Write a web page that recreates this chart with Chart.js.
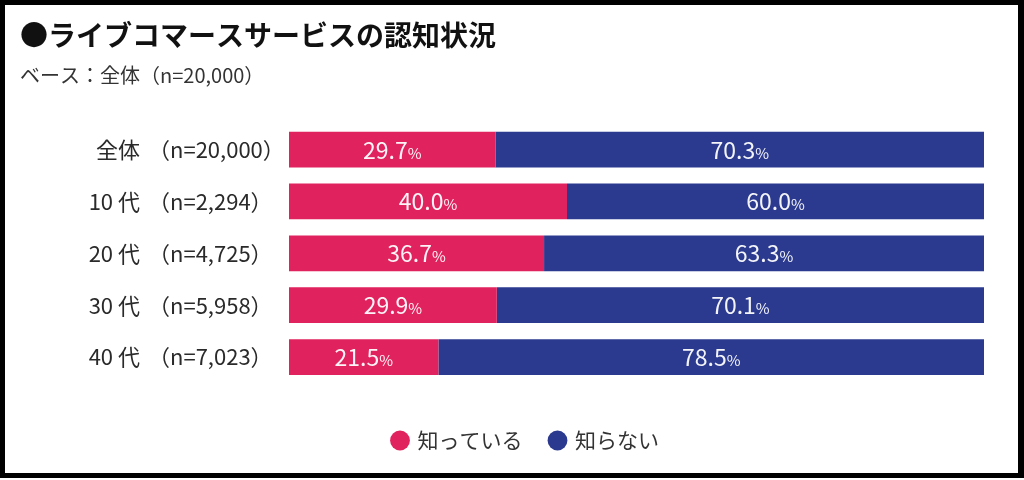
<!DOCTYPE html>
<html lang="ja">
<head>
<meta charset="utf-8">
<script src="https://cdn.jsdelivr.net/npm/chart.js@4.4.1/dist/chart.umd.min.js"></script>
<style>
  html, body { margin: 0; padding: 0; background: #fff; }
  #frame {
    position: absolute; left: 0; top: 0; width: 1024px; height: 478px;
    box-sizing: border-box; border-style: solid; border-color: #000;
    border-width: 5px 6px 5px 5px; background: #fff;
  }
  #wrap { position: absolute; left: 0; top: 0; width: 1013px; height: 468px; }
</style>
</head>
<body>
<div id="frame"><div id="wrap"><canvas id="c"></canvas></div></div>
<script>
const categories = ['全体', '10 代', '20 代', '30 代', '40 代'];
const sampleSizes = ['（n=20,000）', '（n=2,294）', '（n=4,725）', '（n=5,958）', '（n=7,023）'];
const knowValues = [29.7, 40.0, 36.7, 29.9, 21.5];
const unknownValues = [70.3, 60.0, 63.3, 70.1, 78.5];
const seriesNames = ['知っている', '知らない'];
const seriesColors = ['#E0225E', '#2B3A8F'];

const FONT = '"Noto Sans CJK JP", "Noto Sans", sans-serif';

const barLabels = {
  id: 'barLabels',
  afterDatasetsDraw(chart) {
    const ctx = chart.ctx;
    ctx.save();
    ctx.textBaseline = 'alphabetic';
    ctx.fillStyle = 'rgba(255,255,255,0.95)';
    chart.data.datasets.forEach((ds, di) => {
      const meta = chart.getDatasetMeta(di);
      meta.data.forEach((el, i) => {
        const v = ds.data[i];
        const num = v.toFixed(1);
        const c = el.getCenterPoint();
        ctx.font = '23px ' + FONT;
        const w1 = ctx.measureText(num).width;
        ctx.font = '15px ' + FONT;
        const w2 = ctx.measureText('%').width;
        const x0 = c.x - (w1 + w2) / 2;
        const base = c.y + 9;
        ctx.font = '23px ' + FONT;
        ctx.textAlign = 'left';
        ctx.fillText(num, x0, base);
        ctx.font = '15px ' + FONT;
        ctx.fillText('%', x0 + w1, base);
      });
    });
    ctx.restore();
  }
};

const rowLabels = {
  id: 'rowLabels',
  afterDraw(chart) {
    const ctx = chart.ctx;
    const y = chart.scales.y;
    ctx.save();
    ctx.fillStyle = '#2a2a2a';
    ctx.font = '22px ' + FONT;
    ctx.textBaseline = 'middle';
    categories.forEach((cat, i) => {
      const py = y.getPixelForValue(i);
      ctx.textAlign = 'right';
      ctx.fillText(cat, 135, py);
      ctx.textAlign = 'left';
      ctx.fillText(sampleSizes[i], 143, py);
    });
    ctx.restore();
  }
};

const legendShift = {
  id: 'legendShift',
  afterLayout(chart) {
    if (chart.legend) { chart.legend.left += 24; chart.legend.right += 24; }
  }
};

new Chart(document.getElementById('c'), {
  type: 'bar',
  data: {
    labels: categories,
    datasets: [
      { label: seriesNames[0], data: knowValues, backgroundColor: seriesColors[0], borderWidth: 0 },
      { label: seriesNames[1], data: unknownValues, backgroundColor: seriesColors[1], borderWidth: 0 }
    ]
  },
  options: {
    indexAxis: 'y',
    responsive: true,
    maintainAspectRatio: false,
    animation: false,
    layout: { padding: { left: 15, right: 34, top: 14, bottom: 12 } },
    datasets: { bar: { categoryPercentage: 1.0, barPercentage: 0.69 } },
    scales: {
      x: {
        stacked: true, min: 0, max: 100,
        grid: { display: false }, border: { display: false },
        ticks: { display: false },
        afterFit(s) { s.height = 19; }
      },
      y: {
        stacked: true,
        grid: { display: false }, border: { display: false },
        ticks: { display: false },
        afterFit(s) { s.width = 269; }
      }
    },
    plugins: {
      tooltip: { enabled: false },
      title: {
        display: true, align: 'start',
        text: '●ライブコマースサービスの認知状況',
        color: '#111',
        font: { family: FONT, size: 28, weight: 'bold' },
        padding: { top: 0, bottom: 4 }
      },
      subtitle: {
        display: true, align: 'start',
        text: 'ベース：全体（n=20,000）',
        color: '#333',
        font: { family: FONT, size: 20 },
        padding: { top: 7, bottom: 36 }
      },
      legend: {
        position: 'bottom',
        labels: {
          usePointStyle: true, pointStyle: 'circle',
          boxWidth: 14, boxHeight: 14,
          color: '#333',
          font: { family: FONT, size: 21 },
          padding: 28
        }
      }
    }
  },
  plugins: [barLabels, rowLabels, legendShift]
});
</script>
</body>
</html>
